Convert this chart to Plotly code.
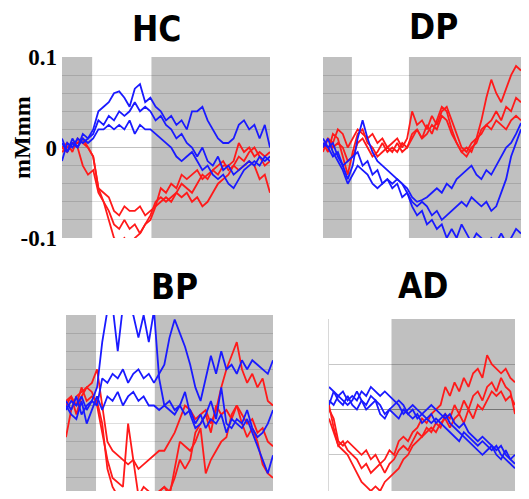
import plotly.graph_objects as go

# ---- time axis (relative units, 0..100) ----
t = [i * 2.5 for i in range(41)]

# ---- HC ----
hc_red1 = [0.0, 0.005, -0.005, 0.01, 0.005, 0.0, -0.01, -0.045, -0.05, -0.055, -0.07, -0.075, -0.065, -0.07, -0.07, -0.065, -0.075, -0.07, -0.065, -0.045, -0.05, -0.04, -0.045, -0.03, -0.035, -0.03, -0.025, -0.035, -0.03, -0.025, -0.03, -0.02, -0.02, -0.015, 0.005, -0.005, 0.0, -0.01, -0.005, -0.01, -0.005]
hc_red2 = [-0.005, 0.0, 0.005, 0.0, -0.02, -0.03, -0.025, -0.05, -0.06, -0.07, -0.085, -0.09, -0.08, -0.09, -0.085, -0.095, -0.085, -0.075, -0.06, -0.055, -0.06, -0.055, -0.05, -0.04, -0.045, -0.05, -0.04, -0.03, -0.035, -0.025, -0.02, -0.015, -0.025, -0.02, -0.01, -0.015, -0.005, 0.0, -0.01, -0.02, -0.015]
hc_red3 = [0.0, -0.005, 0.005, 0.005, 0.01, 0.0, -0.01, -0.045, -0.06, -0.08, -0.1, -0.105, -0.1, -0.11, -0.1, -0.095, -0.085, -0.08, -0.065, -0.06, -0.055, -0.06, -0.05, -0.055, -0.05, -0.06, -0.055, -0.065, -0.06, -0.05, -0.04, -0.035, -0.03, -0.02, -0.025, -0.02, -0.015, -0.02, -0.035, -0.03, -0.05]
hc_blue1 = [0.005, -0.005, 0.01, 0.0, 0.015, 0.01, 0.02, 0.04, 0.045, 0.05, 0.06, 0.062, 0.055, 0.045, 0.065, 0.07, 0.05, 0.055, 0.045, 0.04, 0.03, 0.035, 0.025, 0.03, 0.02, 0.04, 0.04, 0.045, 0.03, 0.02, 0.01, 0.005, 0.005, 0.01, 0.025, 0.03, 0.02, 0.025, 0.01, 0.025, 0.0]
hc_blue2 = [-0.015, 0.005, 0.0, 0.01, 0.005, 0.01, 0.015, 0.03, 0.025, 0.035, 0.03, 0.04, 0.035, 0.04, 0.05, 0.04, 0.045, 0.04, 0.03, 0.035, 0.025, 0.02, 0.01, 0.015, 0.005, 0.0, -0.01, 0.0, -0.015, -0.02, -0.01, -0.025, -0.02, -0.03, -0.025, -0.02, -0.015, -0.02, -0.01, -0.015, -0.01]
hc_blue3 = [0.01, -0.005, 0.005, 0.0, 0.01, 0.005, 0.01, 0.02, 0.02, 0.025, 0.02, 0.025, 0.02, 0.03, 0.015, 0.025, 0.02, 0.02, 0.015, 0.01, 0.005, 0.0, -0.01, -0.015, -0.01, -0.005, -0.015, -0.025, -0.02, -0.03, -0.035, -0.03, -0.04, -0.045, -0.035, -0.025, -0.02, -0.015, -0.02, -0.01, -0.015]

# ---- DP ----
dp_red1 = [0.0, 0.01, 0.005, 0.02, 0.015, 0.0, 0.01, 0.02, 0.015, 0.01, 0.015, 0.005, 0.01, 0.0, 0.005, 0.01, 0.0, 0.01, 0.04, 0.025, 0.03, 0.02, 0.035, 0.025, 0.04, 0.045, 0.03, 0.015, 0.0, -0.005, 0.005, 0.01, 0.03, 0.055, 0.075, 0.06, 0.05, 0.065, 0.08, 0.09, 0.085]
dp_red2 = [0.005, -0.005, 0.015, 0.01, -0.01, -0.03, -0.005, 0.015, 0.02, 0.005, 0.0, -0.01, -0.005, 0.0, -0.005, 0.005, -0.005, 0.0, 0.015, 0.02, 0.01, 0.025, 0.015, 0.03, 0.045, 0.04, 0.02, 0.005, -0.005, -0.01, 0.0, 0.005, 0.02, 0.025, 0.03, 0.04, 0.03, 0.045, 0.04, 0.055, 0.05]
dp_red3 = [-0.005, 0.01, 0.0, 0.005, 0.0, -0.015, -0.01, 0.005, 0.01, 0.0, -0.01, -0.005, 0.005, -0.005, 0.0, -0.005, 0.005, 0.0, 0.01, 0.02, 0.01, 0.015, 0.025, 0.02, 0.035, 0.03, 0.015, 0.005, -0.005, 0.0, -0.005, 0.01, 0.015, 0.025, 0.02, 0.03, 0.025, 0.02, 0.03, 0.035, 0.03]
dp_blue1 = [0.005, 0.0, 0.005, -0.01, -0.02, -0.035, -0.02, 0.01, 0.03, 0.01, -0.005, -0.015, -0.02, -0.025, -0.03, -0.035, -0.04, -0.045, -0.055, -0.06, -0.058, -0.055, -0.05, -0.045, -0.05, -0.04, -0.045, -0.035, -0.03, -0.025, -0.02, -0.03, -0.035, -0.025, -0.03, -0.02, -0.01, 0.0, 0.005, 0.015, 0.027]
dp_blue2 = [0.0, 0.01, -0.005, -0.015, -0.025, -0.04, -0.03, -0.02, -0.025, -0.03, -0.04, -0.045, -0.04, -0.035, -0.04, -0.035, -0.04, -0.05, -0.06, -0.065, -0.06, -0.065, -0.075, -0.07, -0.08, -0.075, -0.07, -0.065, -0.06, -0.065, -0.055, -0.06, -0.065, -0.06, -0.07, -0.065, -0.05, -0.035, -0.01, 0.005, 0.02]
dp_blue3 = [0.01, 0.0, -0.01, -0.005, -0.02, -0.015, -0.01, -0.005, -0.02, -0.015, -0.03, -0.025, -0.04, -0.035, -0.045, -0.04, -0.055, -0.05, -0.065, -0.075, -0.07, -0.085, -0.08, -0.09, -0.085, -0.1, -0.09, -0.1, -0.085, -0.095, -0.105, -0.095, -0.1, -0.11, -0.1, -0.105, -0.095, -0.105, -0.1, -0.09, -0.095]

# ---- BP ----
bp_red1 = [-0.035, -0.005, 0.01, 0.015, 0.02, 0.025, 0.04, 0.0, -0.04, -0.05, -0.055, -0.06, -0.065, -0.06, -0.07, -0.065, -0.06, -0.055, -0.05, -0.05, -0.04, -0.03, -0.015, 0.0, -0.005, -0.015, -0.01, -0.005, -0.02, -0.005, 0.02, 0.04, 0.055, 0.07, 0.04, 0.025, 0.035, 0.02, 0.03, 0.005, 0.0]
bp_red2 = [0.005, 0.01, -0.01, 0.01, 0.02, 0.015, 0.0, -0.03, -0.06, -0.08, -0.085, -0.09, -0.02, -0.06, -0.1, -0.09, -0.095, -0.1, -0.095, -0.09, -0.1, -0.07, -0.04, -0.045, -0.05, -0.04, -0.025, -0.075, -0.06, -0.05, -0.04, -0.035, -0.01, 0.0, -0.02, -0.035, -0.025, -0.04, -0.065, -0.075, -0.08]
bp_red3 = [0.0, 0.01, 0.0, 0.02, 0.005, 0.01, 0.005, -0.02, -0.07, -0.09, -0.1, -0.105, -0.1, -0.105, -0.1, -0.105, -0.1, -0.105, -0.095, -0.09, -0.095, -0.08, -0.06, -0.07, -0.06, -0.03, -0.02, -0.01, -0.03, 0.0, -0.01, -0.005, -0.015, 0.0, -0.01, -0.02, -0.015, -0.03, -0.025, -0.04, -0.045]
bp_blue1 = [0.005, -0.005, 0.01, -0.01, 0.0, 0.005, 0.02, 0.07, 0.105, 0.11, 0.06, 0.11, 0.105, 0.1, 0.075, 0.1, 0.07, 0.105, 0.03, 0.0, 0.005, -0.005, 0.0, -0.01, -0.005, -0.02, -0.01, -0.025, -0.015, -0.02, -0.01, -0.03, -0.015, -0.02, -0.025, -0.015, -0.03, -0.045, -0.06, -0.075, -0.055]
bp_blue2 = [-0.005, 0.005, 0.0, 0.01, -0.005, 0.005, 0.0, 0.03, 0.025, 0.035, 0.03, 0.04, 0.025, 0.035, 0.04, 0.03, 0.035, 0.025, 0.035, 0.045, 0.075, 0.095, 0.08, 0.065, 0.045, 0.02, 0.005, 0.03, 0.055, 0.035, 0.06, 0.04, 0.045, 0.035, 0.05, 0.04, 0.05, 0.045, 0.04, 0.035, 0.05]
bp_blue3 = [0.0, -0.01, -0.015, 0.005, -0.02, -0.005, 0.01, -0.005, 0.01, 0.005, 0.015, 0.0, 0.01, 0.015, 0.005, 0.01, 0.0, 0.0, -0.005, 0.0, -0.005, -0.01, 0.0, 0.015, -0.01, -0.025, -0.02, -0.01, 0.005, -0.015, 0.02, -0.02, -0.025, -0.015, -0.02, -0.005, -0.025, -0.035, -0.03, -0.02, -0.005]

# ---- AD ----
ad_red1 = [0.0, -0.01, -0.035, -0.04, -0.035, -0.04, -0.045, -0.05, -0.045, -0.055, -0.05, -0.06, -0.055, -0.045, -0.05, -0.035, -0.03, -0.035, -0.025, -0.02, -0.01, -0.015, -0.005, 0.0, 0.005, 0.025, 0.015, 0.03, 0.02, 0.035, 0.025, 0.04, 0.045, 0.035, 0.06, 0.05, 0.045, 0.04, 0.045, 0.035, 0.03]
ad_red2 = [0.005, -0.02, -0.04, -0.035, -0.045, -0.05, -0.055, -0.065, -0.06, -0.07, -0.065, -0.06, -0.07, -0.06, -0.055, -0.045, -0.04, -0.045, -0.035, -0.025, -0.03, -0.02, -0.025, -0.015, -0.02, -0.005, -0.01, 0.005, -0.005, 0.01, 0.0, 0.015, 0.02, 0.01, 0.025, 0.03, 0.02, 0.035, 0.025, 0.02, -0.005]
ad_red3 = [-0.01, -0.025, -0.04, -0.045, -0.05, -0.06, -0.07, -0.08, -0.085, -0.09, -0.085, -0.09, -0.08, -0.075, -0.07, -0.065, -0.055, -0.05, -0.04, -0.035, -0.03, -0.025, -0.02, -0.025, -0.015, -0.01, -0.02, -0.01, -0.005, -0.015, 0.0, -0.01, 0.005, 0.0, 0.01, 0.02, 0.015, 0.02, 0.01, 0.015, 0.005]
ad_blue1 = [0.025, 0.02, 0.015, 0.02, 0.01, 0.015, 0.01, 0.02, 0.015, 0.025, 0.02, 0.015, 0.02, 0.015, 0.01, 0.005, -0.005, 0.0, 0.005, 0.0, -0.005, 0.0, 0.005, 0.0, -0.005, -0.01, -0.005, -0.015, -0.02, -0.015, -0.025, -0.03, -0.035, -0.03, -0.035, -0.04, -0.045, -0.04, -0.05, -0.055, -0.05]
ad_blue2 = [0.005, 0.02, 0.01, 0.005, 0.015, 0.005, 0.0, 0.01, 0.005, 0.015, 0.01, 0.005, -0.005, 0.0, 0.005, 0.01, 0.005, -0.005, 0.0, -0.01, -0.005, -0.01, -0.005, -0.015, -0.01, -0.005, -0.015, -0.02, -0.025, -0.03, -0.035, -0.04, -0.045, -0.05, -0.045, -0.04, -0.05, -0.055, -0.045, -0.055, -0.06]
ad_blue3 = [0.01, 0.005, 0.015, 0.01, 0.005, 0.01, 0.02, 0.01, 0.0, 0.005, 0.01, -0.005, -0.01, 0.0, -0.005, -0.01, 0.0, -0.005, -0.01, -0.005, -0.015, -0.01, -0.015, -0.01, -0.015, -0.02, -0.025, -0.03, -0.035, -0.025, -0.03, -0.035, -0.04, -0.035, -0.04, -0.045, -0.04, -0.05, -0.055, -0.06, -0.065]

# shaded (gray) periods per panel, in time units
hc_gray = [(0, 14.5), (43, 100)]
dp_gray = [(0, 14.6), (43.4, 100)]
bp_gray = [(0, 14.5), (42.9, 100)]
ad_gray = [(33.6, 100)]

panel_titles = ["HC", "DP", "BP", "AD"]
y_ticks = [-0.1, 0, 0.1]
y_tick_text = ["-0.1", "0", "0.1"]
y_label = "mMmm"

# figure sized so that, with the page's 8px body margin, it fits the 529x499 window
OFF = 8
W, H = 529 - 2 * OFF, 499 - 2 * OFF
def px(x): return min(max((x - OFF) / W, 0), 1)
def py(y): return min(max(1 - (y - OFF) / H, 0), 1)

panels = [
    dict(title=panel_titles[0], reds=[hc_red1, hc_red2, hc_red3], blues=[hc_blue1, hc_blue2, hc_blue3], gray=hc_gray,
         xd=(62, 270), yd=(57, 238), yr=[-0.1, 0.1], tpos=(156, 29), labels=True, grid=0.02, gc="rgba(0,0,0,0.13)"),
    dict(title=panel_titles[1], reds=[dp_red1, dp_red2, dp_red3], blues=[dp_blue1, dp_blue2, dp_blue3], gray=dp_gray,
         xd=(323, 529), yd=(57, 238), yr=[-0.1, 0.1], tpos=(433, 27), labels=False, grid=0.02, gc="rgba(0,0,0,0.13)"),
    dict(title=panel_titles[2], reds=[bp_red1, bp_red2, bp_red3], blues=[bp_blue1, bp_blue2, bp_blue3], gray=bp_gray,
         xd=(66, 273), yd=(315, 491), yr=[-0.0945, 0.1], tpos=(174, 287), labels=False, grid=0.02, gc="rgba(0,0,0,0.13)"),
    dict(title=panel_titles[3], reds=[ad_red1, ad_red2, ad_red3], blues=[ad_blue1, ad_blue2, ad_blue3], gray=ad_gray,
         xd=(329, 515), yd=(319, 491), yr=[-0.090, 0.1], tpos=(423, 286), labels=False, grid=0.05, gc="rgba(0,0,0,0.22)"),
]

fig = go.Figure()
shapes = []
annotations = []
RED = "#ff1a1a"
BLUE = "#1a1aff"

for i, p in enumerate(panels, start=1):
    xa = "x" if i == 1 else f"x{i}"
    ya = "y" if i == 1 else f"y{i}"
    for s in p["reds"]:
        fig.add_trace(go.Scatter(x=t, y=s, mode="lines", line=dict(color=RED, width=1.8),
                                 xaxis=xa, yaxis=ya, showlegend=False, hoverinfo="skip"))
    for s in p["blues"]:
        fig.add_trace(go.Scatter(x=t, y=s, mode="lines", line=dict(color=BLUE, width=1.8),
                                 xaxis=xa, yaxis=ya, showlegend=False, hoverinfo="skip"))
    for (a, b) in p["gray"]:
        shapes.append(dict(type="rect", xref=xa, yref=f"{ya} domain", x0=a, x1=b, y0=0, y1=1,
                           fillcolor="#c0c0c0", line=dict(width=0), layer="below"))
    xkey = "xaxis" if i == 1 else f"xaxis{i}"
    ykey = "yaxis" if i == 1 else f"yaxis{i}"
    fig.layout[xkey] = dict(domain=[px(p["xd"][0]), px(p["xd"][1])], range=[0, 100],
                            showgrid=False, zeroline=False, showticklabels=False, ticks="",
                            anchor=ya, fixedrange=True, automargin=False)
    fig.layout[ykey] = dict(domain=[py(p["yd"][1]), py(p["yd"][0])], range=p["yr"],
                            tickmode="array", tickvals=y_ticks, ticktext=y_tick_text,
                            showticklabels=p["labels"], ticks="", showgrid=True, gridcolor=p["gc"], gridwidth=1,
                            zeroline=False, anchor=xa, fixedrange=True, automargin=False,
                            minor=dict(dtick=p["grid"], tick0=0, showgrid=True, gridcolor=p["gc"], gridwidth=1),
                            tickfont=dict(family="Liberation Serif", size=23, color="black", weight="bold"),
                            ticklabelstandoff=4)
    annotations.append(dict(text=p["title"], x=px(p["tpos"][0]), y=py(p["tpos"][1]),
                            xref="paper", yref="paper", xanchor="center", yanchor="middle", showarrow=False,
                            font=dict(family="DejaVu Sans Condensed", size=35, color="black", weight="bold")))

annotations.append(dict(text=y_label, x=px(22), y=py(138), xref="paper", yref="paper",
                        xanchor="center", yanchor="middle", textangle=-90, showarrow=False,
                        font=dict(family="Liberation Serif", size=24, color="black", weight="bold")))

fig.update_layout(width=W, height=H, autosize=False, margin=dict(l=0, r=0, t=0, b=0, pad=0, autoexpand=False),
                  paper_bgcolor="white", plot_bgcolor="white",
                  shapes=shapes, annotations=annotations, showlegend=False)
fig.layout.yaxis4.showline = True
fig.layout.yaxis4.linecolor = "#d8d8d8"

fig.write_html("out.html", config={"displayModeBar": False})
